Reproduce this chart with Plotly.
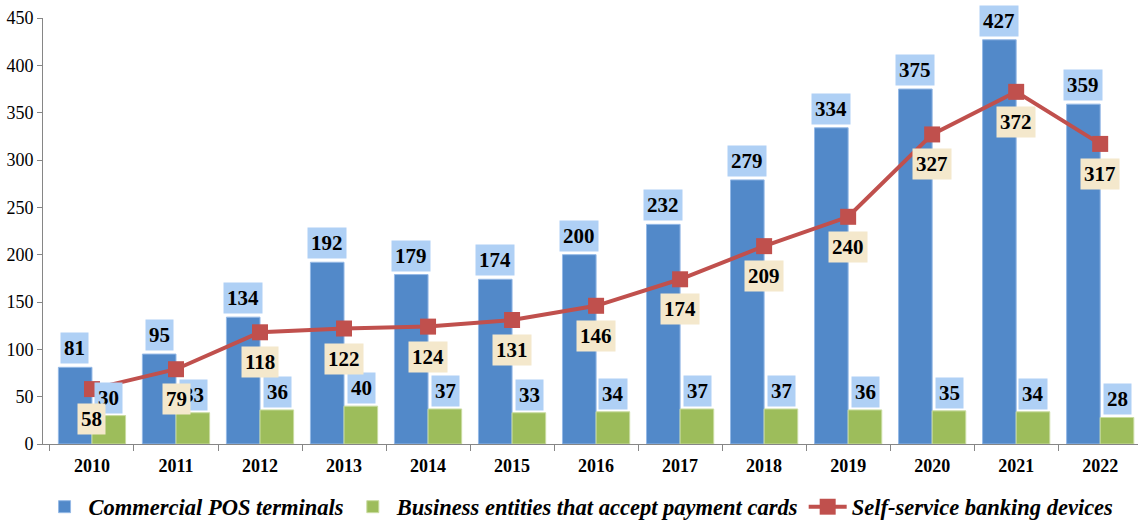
import plotly.graph_objects as go

years = ["2010", "2011", "2012", "2013", "2014", "2015", "2016",
         "2017", "2018", "2019", "2020", "2021", "2022"]
pos_terminals = [81, 95, 134, 192, 179, 174, 200, 232, 279, 334, 375, 427, 359]
business_entities = [30, 33, 36, 40, 37, 33, 34, 37, 37, 36, 35, 34, 28]
self_service = [58, 79, 118, 122, 124, 131, 146, 174, 209, 240, 327, 372, 317]

y_ticks = [0, 50, 100, 150, 200, 250, 300, 350, 400, 450]

SERIF = "Liberation Serif"

fig = go.Figure()
fig.add_trace(go.Bar(
    x=years, y=pos_terminals, name="Commercial POS terminals",
    marker=dict(color="#5289C9", line=dict(color="#95B9E6", width=1)),
))
fig.add_trace(go.Bar(
    x=years, y=business_entities, name="Business entities that accept payment cards",
    marker=dict(color="#9DBD5B", line=dict(color="#C9DCA0", width=1)),
))
fig.add_trace(go.Scatter(
    x=years, y=self_service, name="Self-service banking devices",
    mode="lines+markers",
    line=dict(color="#C0504D", width=4),
    marker=dict(symbol="square", size=16, color="#C0504D"),
))

annotations = []
label_font = dict(family=SERIF, size=21, color="black")
for i, v in enumerate(pos_terminals):
    annotations.append(dict(
        x=i, y=v, xref="x", yref="y", text=f"<b>{v}</b>", showarrow=False,
        xshift=-17, yshift=19, yanchor="middle", font=label_font,
        bgcolor="#AFD0F5", borderpad=3,
    ))
for i, v in enumerate(business_entities):
    annotations.append(dict(
        x=i, y=v, xref="x", yref="y", text=f"<b>{v}</b>", showarrow=False,
        xshift=17, yshift=18, yanchor="middle", font=label_font,
        bgcolor="#AFD0F5", borderpad=3,
    ))
for i, v in enumerate(self_service):
    annotations.append(dict(
        x=i, y=v, xref="x", yref="y", text=f"<b>{v}</b>", showarrow=False,
        yshift=-30, yanchor="middle", font=label_font,
        bgcolor="#F4E8CC", borderpad=3,
    ))

fig.update_layout(
    width=1138, height=522,
    margin=dict(l=43, r=0, t=18, b=78, autoexpand=False),
    paper_bgcolor="white", plot_bgcolor="white",
    barmode="group", bargap=0.2, bargroupgap=0,
    showlegend=True,
    legend=dict(
        orientation="h", x=0.49, xanchor="center", y=-0.148, yanchor="middle",
        font=dict(family=SERIF, size=22.5, color="black", style="italic", weight="bold"),
        itemwidth=38, traceorder="normal",
    ),
    annotations=annotations,
    xaxis=dict(
        type="category", range=[-0.583, 12.45],
        showline=True, linecolor="#868686", linewidth=1,
        ticks="outside", tickson="boundaries", ticklen=6, tickcolor="#868686",
        ticklabelstandoff=5,
        tickfont=dict(family=SERIF, size=18, color="black", weight="bold"),
        showgrid=False, zeroline=False,
    ),
    yaxis=dict(
        range=[0, 450], tickvals=y_ticks,
        showline=True, linecolor="#868686", linewidth=1,
        ticks="outside", ticklen=5, tickcolor="#868686",
        tickfont=dict(family=SERIF, size=18, color="black"),
        showgrid=False, zeroline=False,
    ),
)

fig.write_html("out.html")
